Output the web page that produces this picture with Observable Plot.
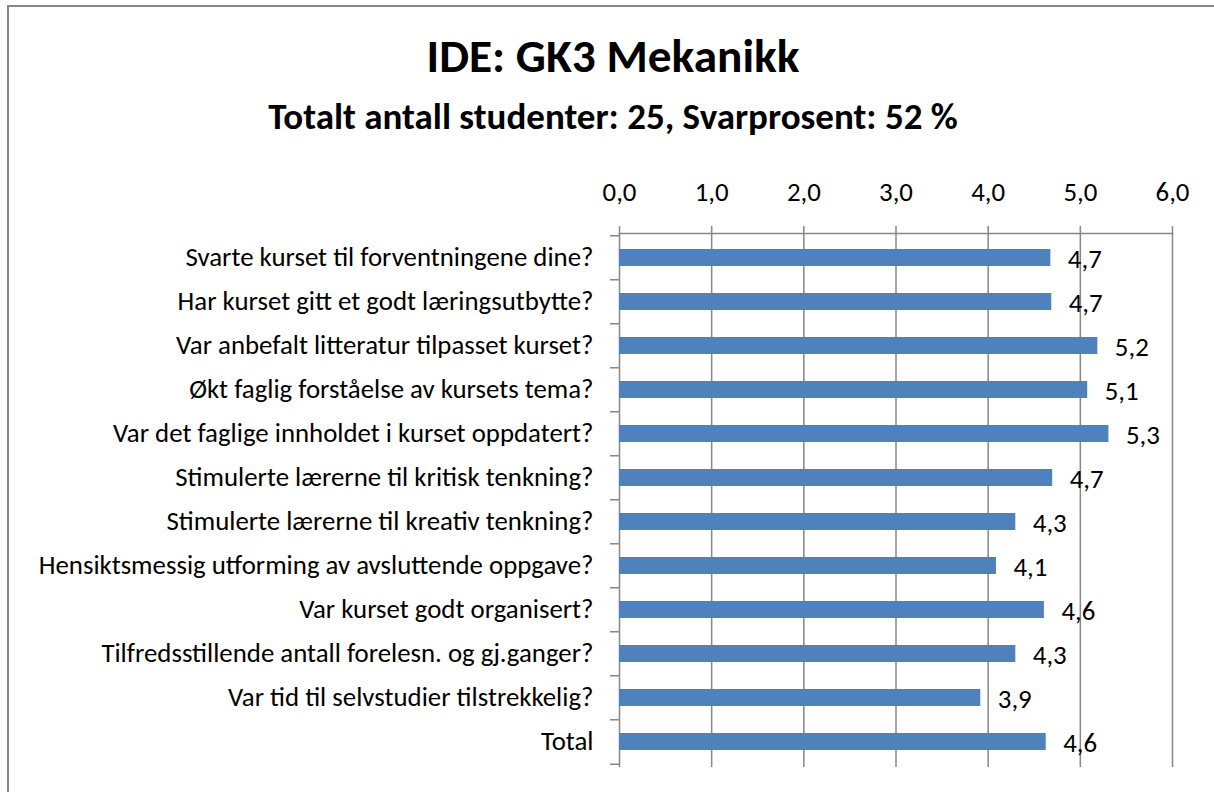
<!DOCTYPE html>
<html><head><meta charset="utf-8">
<script src="https://cdn.jsdelivr.net/npm/d3@7"></script>
<script src="https://cdn.jsdelivr.net/npm/@observablehq/plot@0.6"></script>
<style>
html,body{margin:0;padding:0;background:#fff;overflow:hidden;width:1214px;height:792px;}
#frame{position:absolute;left:7px;top:5px;width:1400px;height:1000px;border:2px solid #878787;box-sizing:border-box;z-index:5;pointer-events:none;}
.ttl{position:absolute;left:0;width:1226px;text-align:center;white-space:nowrap;color:#000;font-weight:bold;line-height:1;}
#chart{position:absolute;left:0;top:140px;}
</style></head><body>
<div id="frame"></div>
<div id="title" class="ttl"></div>
<div id="subtitle" class="ttl"></div>
<div id="chart"></div>
<script>
const titleText = "IDE: GK3 Mekanikk";
const subtitleText = "Totalt antall studenter: 25, Svarprosent: 52 %";
const categories = [
  "Svarte kurset til forventningene dine?",
  "Har kurset gitt et godt læringsutbytte?",
  "Var anbefalt litteratur tilpasset kurset?",
  "Økt faglig forståelse av kursets tema?",
  "Var det faglige innholdet i kurset oppdatert?",
  "Stimulerte lærerne til kritisk tenkning?",
  "Stimulerte lærerne til kreativ tenkning?",
  "Hensiktsmessig utforming av avsluttende oppgave?",
  "Var kurset godt organisert?",
  "Tilfredsstillende antall forelesn. og gj.ganger?",
  "Var tid til selvstudier tilstrekkelig?",
  "Total"
];
const values = [4.68, 4.69, 5.19, 5.08, 5.31, 4.70, 4.30, 4.09, 4.61, 4.30, 3.92, 4.63];
const xTicks = [0, 1, 2, 3, 4, 5, 6];

const FONT = "Carlito, Lato, 'Open Sans', sans-serif";
const ctx = document.createElement("canvas").getContext("2d");
function fit(text, weight, target) {
  ctx.font = `${weight} 100px ${FONT}`;
  return 100 * target / ctx.measureText(text).width;
}
function placeText(el, text, size, baseline) {
  el.style.fontFamily = FONT;
  el.style.fontSize = size + "px";
  el.textContent = text;
  const probe = document.createElement("span");
  probe.style.cssText = "display:inline-block;width:0;height:0;vertical-align:baseline";
  el.appendChild(probe);
  el.style.top = "0px";
  const b = probe.getBoundingClientRect().top;
  el.style.top = (baseline - b) + "px";
}
placeText(document.getElementById("title"), titleText, fit(titleText, "bold", 373), 72);
placeText(document.getElementById("subtitle"), subtitleText, fit(subtitleText, "bold", 690), 129);

const labelSize = fit(categories[7], "normal", 555);
const data = categories.map((c, i) => ({label: c, value: values[i]}));
const W = 1214, H = 652, mt = 93, mb = 25, ml = 619, mr = 42;
const step = (H - mt - mb) / categories.length;
const grid = "#878787";
const fmt = d => d.toFixed(1).replace(".", ",");

const plot = Plot.plot({
  width: W, height: H,
  marginTop: mt, marginBottom: mb, marginLeft: ml, marginRight: mr,
  style: {fontFamily: FONT, fontSize: labelSize + "px", color: "#000", background: "transparent", overflow: "visible"},
  x: {domain: [0, 6], axis: null},
  y: {domain: categories, paddingInner: 0.607, paddingOuter: 0.3035, axis: null},
  marks: [
    Plot.ruleX(xTicks, {stroke: grid, strokeWidth: 1.5, insetTop: -7}),
    Plot.frame({anchor: "top", stroke: grid, strokeWidth: 1.5}),
    Plot.axisX({anchor: "top", ticks: xTicks, tickSize: 0, tickPadding: 33, tickFormat: fmt, label: null, fontSize: labelSize}),
    Plot.axisY({anchor: "left", tickSize: 9, text: null, label: null, dy: -step / 2, stroke: grid, strokeWidth: 1.5}),
    Plot.axisY({anchor: "left", ticks: [categories[categories.length - 1]], tickSize: 9, text: null, label: null, dy: step / 2, stroke: grid, strokeWidth: 1.5}),
    Plot.axisY({anchor: "left", tickSize: 0, tickPadding: 26, label: null, fontSize: labelSize, dy: -1}),
    Plot.barX(data, {x: "value", y: "label", fill: "#4F81BD"}),
    Plot.text(data, {x: "value", y: "label", text: d => fmt(d.value), textAnchor: "start", dx: 17, dy: 1, fontSize: labelSize, fill: "#000"})
  ]
});
document.getElementById("chart").appendChild(plot);
</script></body></html>
